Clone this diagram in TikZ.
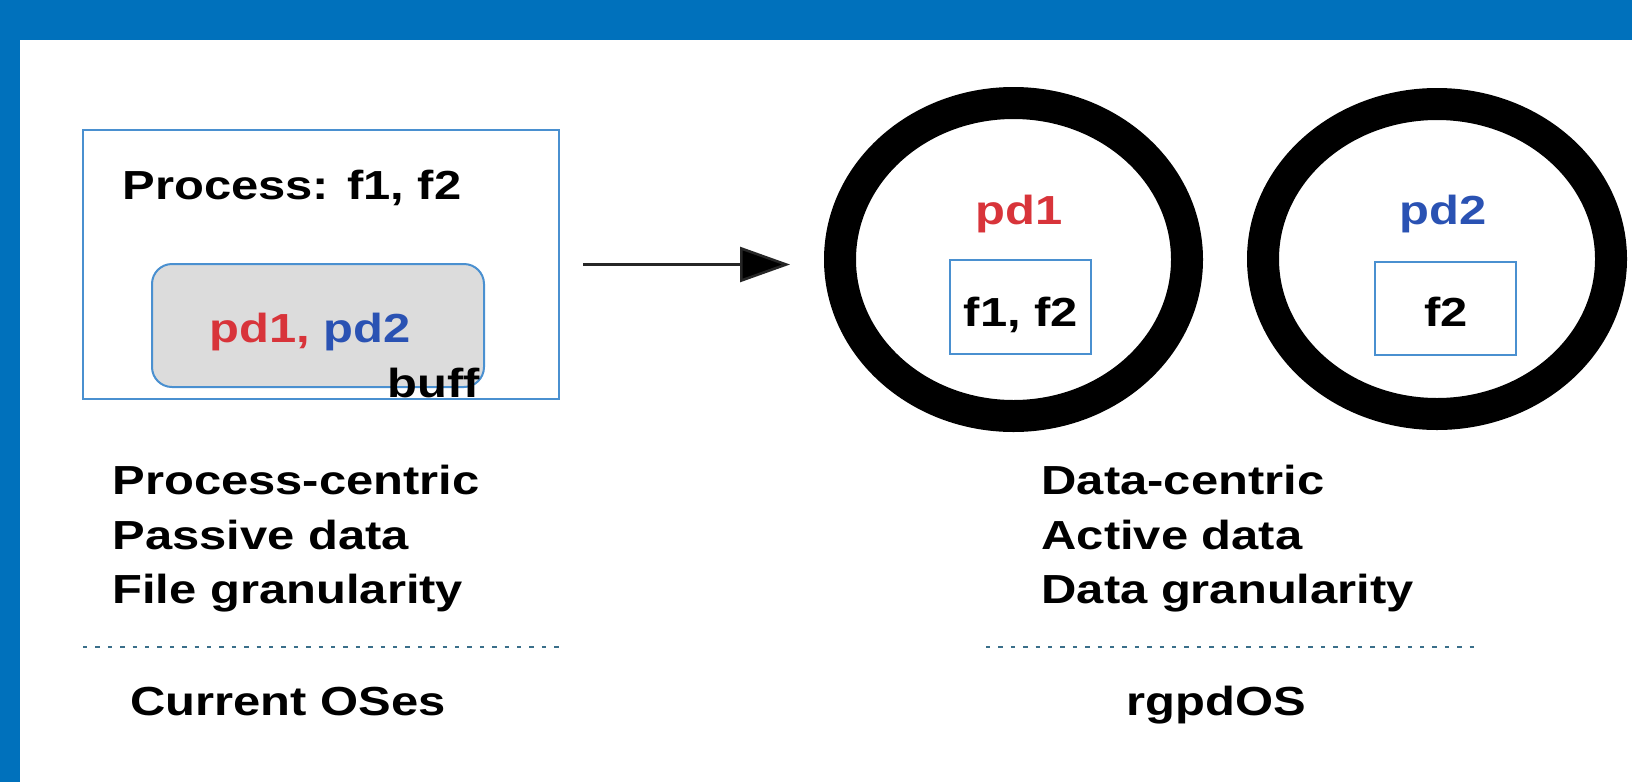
\documentclass[tikz,border=0pt]{standalone}
\usepackage{fontspec}
\setmainfont{Liberation Sans}
\usetikzlibrary{arrows.meta,shapes.geometric}
\definecolor{frameblue}{HTML}{0071BC}
\definecolor{boxblue}{HTML}{4A90D0}
\definecolor{buffgray}{HTML}{DCDCDC}
\definecolor{pdred}{HTML}{D8343A}
\definecolor{pdblue}{HTML}{2A52B3}
\definecolor{dotgray}{HTML}{3A6F8A}
\begin{document}
\begin{tikzpicture}[x=0.5pt,y=-0.5pt,
  txt/.style={font=\bfseries\fontsize{20.3pt}{24pt}\selectfont, inner sep=0pt, anchor=base west, xscale=1.205},
  ctxt/.style={txt, anchor=base},
  boxline/.style={draw=boxblue, line width=1pt, inner sep=0pt, outer sep=0pt},
  buffbox/.style={boxline, fill=buffgray, rounded corners=10pt},
  ring/.style={ellipse, draw=black, line width=16pt, inner sep=0pt},
  arr/.style={draw=black!85, line width=1.3pt, -{Triangle[length=25pt,width=17.5pt,fill=black]}},
  dotline/.style={draw=dotgray, line width=1.3pt, dash pattern=on 2.2pt off 4pt}
]
\useasboundingbox (0,0) rectangle (1632,782);
\fill[white] (0,0) rectangle (1632,782);
\fill[frameblue] (0,0) rectangle (1632,40);
\fill[frameblue] (0,0) rectangle (20,782);

% left: process-centric
\node[boxline, minimum width=238pt, minimum height=134.5pt, anchor=north west] (proc) at (83,130) {};
\node[txt] (proct) at (122,199) {Process: f1, f2};
\node[buffbox, minimum width=166pt, minimum height=61.5pt, anchor=north west] (buffb) at (152,264) {};
\node[txt] (pdl) at (209,342) {\textcolor{pdred}{pd1,} \textcolor{pdblue}{pd2}};
\node[txt] (bufft) at (387,397) {buff};

% right: data-centric
\node[ring, minimum width=173.5pt, minimum height=156.5pt] (pdA) at (1013.5,259.5) {};
\node[ring, minimum width=174pt, minimum height=155pt] (pdB) at (1437,259) {};
\node[ctxt, text=pdred] (pdAt) at (1019,224) {pd1};
\node[ctxt, text=pdblue] (pdBt) at (1443,224) {pd2};
\node[boxline, minimum width=70.5pt, minimum height=47pt] (fA) at (1020.5,307) {};
\node[boxline, minimum width=70.5pt, minimum height=46.5pt] (fB) at (1445.5,308.5) {};
\node[ctxt] (fAt) at (1021,326) {f1, f2};
\node[ctxt] (fBt) at (1446,326) {f2};

% arrow
\draw[arr, shorten <=12pt, shorten >=17pt] (proc.east) -- (proc.east -| pdA.west);

% captions
\node[txt] (l1) at (112,494) {Process-centric};
\node[txt] (l2) at (112,549) {Passive data};
\node[txt] (l3) at (112,603) {File granularity};
\draw[dotline] (83,647) -- (563,647);
\node[txt] (lc) at (130,715) {Current OSes};

\node[txt] (r1) at (1041,494) {Data-centric};
\node[txt] (r2) at (1041,549) {Active data};
\node[txt] (r3) at (1041,603) {Data granularity};
\draw[dotline] (986,647) -- (1478,647);
\node[txt] (rc) at (1126,715) {rgpdOS};
\end{tikzpicture}
\end{document}
